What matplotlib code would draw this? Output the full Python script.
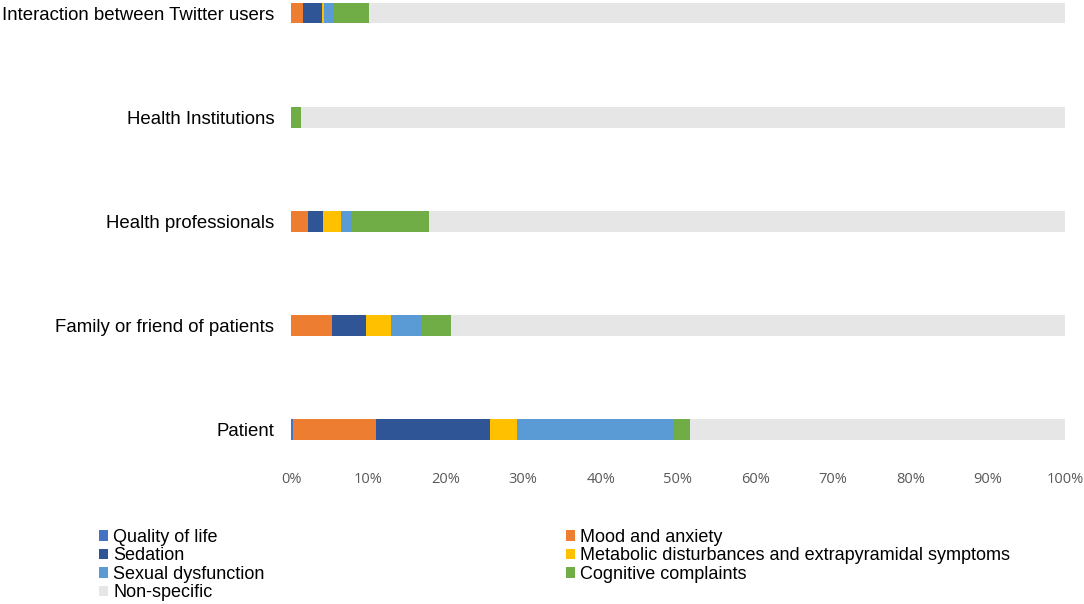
import matplotlib
matplotlib.use("Agg")
import matplotlib.pyplot as plt
import numpy as np

# categories, bottom to top
groups = ["Patient", "Family or friend of patients", "Health professionals",
          "Health Institutions", "Interaction between Twitter users"]

series = ["Quality of life", "Mood and anxiety", "Sedation",
          "Metabolic disturbances and extrapyramidal symptoms",
          "Sexual dysfunction", "Cognitive complaints", "Non-specific"]

# percentages (bottom to top)
quality_of_life = [0.2, 0.0, 0.0, 0.0, 0.0]
mood_anxiety = [10.8, 5.3, 2.2, 0.0, 1.5]
sedation = [14.7, 4.4, 1.9, 0.0, 2.5]
metabolic = [3.5, 3.2, 2.4, 0.0, 0.2]
sexual = [20.3, 3.9, 1.3, 0.0, 1.3]
cognitive = [2.1, 3.9, 10.0, 1.3, 4.6]
non_specific = [100 - sum(v) for v in zip(quality_of_life, mood_anxiety, sedation,
                                           metabolic, sexual, cognitive)]

colors = ["#4472C4", "#ED7D31", "#2F5597", "#FFC000", "#5B9BD5", "#70AD47", "#E7E6E6"]

fig = plt.figure(figsize=(10.84, 6.04), dpi=100)
W, H = 1084, 604
ax = fig.add_axes([291 / W, 1 - 468 / H, (1065 - 291) / W, 468 / H])

y = np.arange(len(groups))
left = np.zeros(len(groups))
data = [quality_of_life, mood_anxiety, sedation, metabolic, sexual, cognitive, non_specific]
bars = []
for name, vals, c in zip(series, data, colors):
    b = ax.barh(y, vals, left=left, height=0.2, color=c, label=name)
    bars.append(b)
    left += np.array(vals)

ax.set_xlim(0, 100)
ax.set_ylim(-(468 - 430) / 104, 4 + 13 / 104)
ax.set_xticks(np.arange(0, 101, 10))
ax.set_xticklabels([f"{t}%" for t in range(0, 101, 10)], fontsize=10.5, color="#595959",
                   family="Open Sans")
ax.set_yticks(y)
ax.set_yticklabels(groups, fontsize=13.4, family="Liberation Sans")
ax.tick_params(length=0, pad=12)
ax.tick_params(axis="x", pad=3)
for s in ax.spines.values():
    s.set_visible(False)

# legend laid out row by row as in the original
order = [0, 2, 4, 6, 1, 3, 5]
leg = fig.legend([bars[i] for i in order], [series[i] for i in order],
                 loc="upper left", bbox_to_anchor=(99 / W, 1 - 529 / H),
                 ncol=2, frameon=False, prop={"family": "Liberation Sans", "size": 13},
                 handlelength=0.5, handleheight=0.5, handletextpad=0.3,
                 labelspacing=0.08, columnspacing=16.67, borderaxespad=0,
                 borderpad=0)

fig.savefig("out.png", dpi=100)
